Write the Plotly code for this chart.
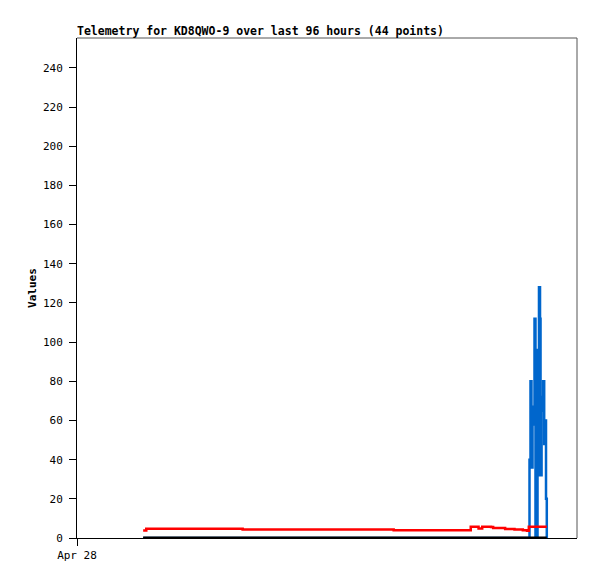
import plotly.graph_objects as go

# Hours since Apr 28 00:00
hours = [12.7, 13.3, 31.5, 31.8, 60.5, 60.8, 75.1, 75.6, 76.6, 77.1, 77.8, 79.5,
         79.9, 81.8, 82.2, 84.0, 85.6, 86.4, 86.75,
         86.88, 87.07, 87.26, 87.46, 87.65, 87.84, 88.03, 88.13, 88.32, 88.42,
         88.6, 88.7, 88.9, 89.0, 89.2, 89.3, 89.5, 89.7, 89.9, 90.05, 90.2]

red_vals = [3.8, 4.7, 4.7, 4.3, 4.3, 4.0, 4.0, 5.8, 5.8, 4.8, 5.7, 5.6,
            5.1, 5.1, 4.6, 4.4, 4.0, 3.7, 5.8,
            5.8, 5.8, 5.8, 5.8, 5.8, 5.8, 5.8, 5.8, 5.8, 5.8,
            5.8, 5.8, 5.8, 5.8, 5.8, 5.8, 5.8, 5.8, 5.8, 5.8, 5.8]

blue_vals = [0, 0, 0, 0, 0, 0, 0, 0, 0, 0, 0, 0,
             0, 0, 0, 0, 0, 0, 0,
             40, 80, 36, 67, 58, 112, 0, 96, 0, 65,
             32, 128, 112, 32, 65, 72, 80, 48, 60, 20, 0]

black_vals = [0] * len(hours)

x_tickvals = [0]
x_ticktext = ["Apr 28"]
y_tickvals = [0, 20, 40, 60, 80, 100, 120, 140, 160, 180, 200, 220, 240]

FONT = "DejaVu Sans Mono"

fig = go.Figure()
fig.add_trace(go.Scatter(x=hours, y=blue_vals, mode="lines",
                         line=dict(color="#0066cc", width=2.5, shape="hv"), showlegend=False))
fig.add_trace(go.Scatter(x=hours, y=red_vals, mode="lines",
                         line=dict(color="#ff0000", width=2.5, shape="hv"), showlegend=False))
fig.add_trace(go.Scatter(x=hours, y=black_vals, mode="lines",
                         line=dict(color="#000000", width=3), showlegend=False))

fig.update_layout(
    width=597, height=579,
    margin=dict(l=69, r=28, t=30, b=49, autoexpand=False),
    paper_bgcolor="white", plot_bgcolor="white",
    font=dict(family=FONT, size=11, color="black"),
    title=dict(text="<b>Telemetry for KD8QWO-9 over last 96 hours (44 points)</b>",
               x=69 / 597, xanchor="left", y=1 - 27 / 579, yanchor="bottom",
               font=dict(family=FONT, size=11.5, color="black")),
    xaxis=dict(range=[0, 96], tickvals=x_tickvals, ticktext=x_ticktext,
               ticks="outside", ticklen=7, tickcolor="black", tickwidth=1,
               showgrid=False, zeroline=False, showline=True, automargin=False,
               linecolor="black", linewidth=1),
    yaxis=dict(range=[0, 255.3], tickvals=y_tickvals,
               ticks="outside", ticklen=7, tickcolor="black", tickwidth=1,
               ticklabelstandoff=4,
               showgrid=False, zeroline=False, showline=True, automargin=False,
               linecolor="black", linewidth=1,
               title=dict(text="<b>Values</b>", standoff=4,
                          font=dict(family=FONT, size=11))),
    shapes=[
        dict(type="line", xref="paper", yref="paper", x0=0, x1=1, y0=1, y1=1,
             line=dict(color="#555555", width=1)),
        dict(type="line", xref="paper", yref="paper", x0=1, x1=1, y0=0, y1=1,
             line=dict(color="#555555", width=1)),
    ],
)

fig.write_html("out.html")
